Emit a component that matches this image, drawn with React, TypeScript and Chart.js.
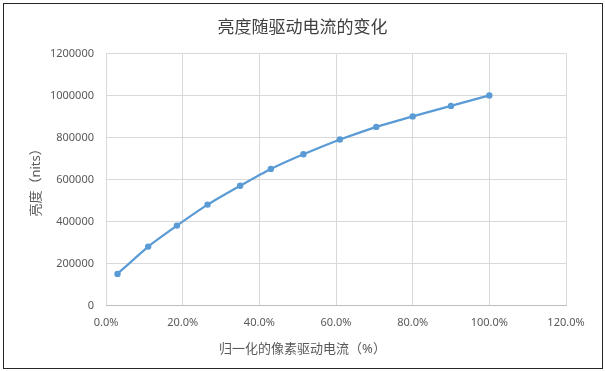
import React, { useEffect, useRef } from "react";
import { Chart, registerables } from "chart.js";

Chart.register(...registerables);

const chartTitle = "亮度随驱动电流的变化";
const xAxisTitle = "归一化的像素驱动电流（%）";
const yAxisTitle = "亮度（nits）";
const currentFraction = [0.03, 0.11, 0.185, 0.265, 0.35, 0.43, 0.515, 0.61, 0.705, 0.8, 0.9, 1.0];
const luminance = [150000, 280000, 380000, 480000, 570000, 650000, 720000, 790000, 850000, 900000, 950000, 1000000];
const xMin = 0;
const xMax = 1.2;
const xStep = 0.2;
const yMin = 0;
const yMax = 1200000;
const yStep = 200000;

const FONT = '"Noto Sans", "Noto Sans CJK SC", sans-serif';
const TEXT = "#595959";

export default function App() {
  const ref = useRef<HTMLCanvasElement | null>(null);

  useEffect(() => {
    document.body.style.margin = "0";
    const canvas = ref.current;
    if (!canvas) return;
    const chart = new Chart(canvas, {
      type: "scatter",
      data: {
        datasets: [
          {
            label: "亮度",
            data: currentFraction.map((x, i) => ({ x, y: luminance[i] })),
            showLine: true,
            borderColor: "#5b9bd5",
            backgroundColor: "#5b9bd5",
            borderWidth: 2.25,
            pointRadius: 3.2,
            pointBorderWidth: 0,
            tension: 0.1,
            yAxisID: "y",
          },
        ],
      },
      options: {
        animation: false,
        responsive: false,
        devicePixelRatio: 1,
        layout: { padding: { left: 24, right: 24, top: 10, bottom: 4 } },
        plugins: {
          legend: { display: false },
          tooltip: { enabled: false },
          title: {
            display: true,
            text: chartTitle,
            color: "#404040",
            font: { family: FONT, size: 17, weight: "normal" },
            padding: { top: 8, bottom: 15 },
          },
          subtitle: {
            display: true,
            text: xAxisTitle,
            position: "bottom",
            color: TEXT,
            font: { family: FONT, size: 13, weight: "normal" },
            padding: { top: 0, bottom: 10 },
          },
        },
        scales: {
          x: {
            type: "linear",
            min: xMin,
            max: xMax,
            afterFit: (s: any) => {
              s.height = 36;
            },
            ticks: {
              stepSize: xStep,
              padding: 11,
              color: TEXT,
              font: { family: FONT, size: 11 },
              callback: (v: any) => (Number(v) * 100).toFixed(1) + "%",
            },
            grid: { color: "#d9d9d9", drawTicks: false, lineWidth: 1 },
            border: { color: "#bfbfbf", width: 1 },
          },
          y: {
            type: "linear",
            position: "left",
            min: yMin,
            max: yMax,
            afterFit: (s: any) => {
              s.width = 82;
            },
            ticks: {
              stepSize: yStep,
              padding: 12,
              color: TEXT,
              font: { family: FONT, size: 11 },
              callback: (v: any) => String(v),
            },
            grid: { color: "#d9d9d9", drawTicks: false, lineWidth: 1 },
            border: { display: false },
            title: {
              display: true,
              text: yAxisTitle,
              color: TEXT,
              font: { family: FONT, size: 13, weight: "normal" },
              padding: { top: 4, bottom: 0 },
            },
          },
          yRight: {
            type: "linear",
            position: "right",
            min: yMin,
            max: yMax,
            afterFit: (s: any) => {
              s.width = 15;
            },
            ticks: { display: false },
            grid: { display: false, drawTicks: false },
            border: { display: false },
          },
        },
      },
    });
    return () => chart.destroy();
  }, []);

  return (
    <div style={{ position: "fixed", left: 0, top: 0, width: 605, height: 371, background: "#fff" }}>
      <canvas ref={ref} width={605} height={371} style={{ display: "block", width: 605, height: 371 }} />
      <div
        style={{
          position: "absolute",
          left: 3,
          top: 3,
          width: 600,
          height: 366,
          boxSizing: "border-box",
          border: "1px solid #262626",
          pointerEvents: "none",
        }}
      />
    </div>
  );
}
